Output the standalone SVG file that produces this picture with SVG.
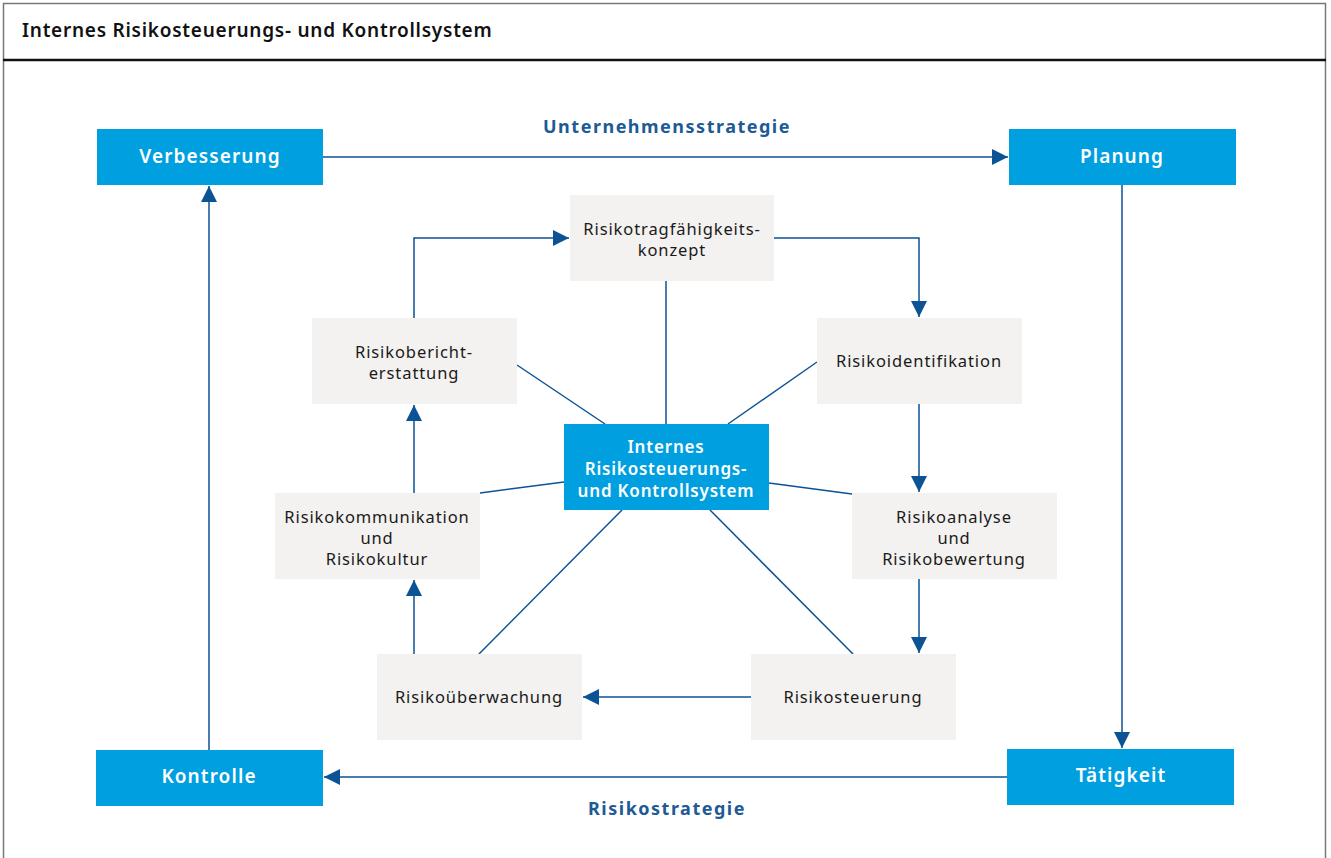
<svg xmlns="http://www.w3.org/2000/svg" width="1331" height="858" viewBox="0 0 1331 858">
<defs>
<style>
.blue{fill:#009FDF}
.gray{fill:#F3F2F0}
.wt{font-family:"Noto Sans","Open Sans",sans-serif;font-size:19px;font-weight:600;fill:#ffffff;text-anchor:middle;letter-spacing:1.1px}
.ct{font-family:"Noto Sans","Open Sans",sans-serif;font-size:17px;font-weight:600;fill:#ffffff;text-anchor:middle;letter-spacing:0.8px}
.gt{font-family:"Noto Sans","Open Sans",sans-serif;font-size:16.5px;fill:#1a1a1a;text-anchor:middle;letter-spacing:0.9px}
.lbl{font-family:"Noto Sans","Open Sans",sans-serif;font-size:18px;font-weight:700;fill:#1D5A96;text-anchor:middle;letter-spacing:1.5px}
.ln{stroke:#0B5394;stroke-width:1.5;fill:none}
.title{font-family:"Noto Sans","Open Sans",sans-serif;font-size:19px;font-weight:600;fill:#111;letter-spacing:0.75px}
</style>
<marker id="ah" viewBox="0 0 10 10" refX="10" refY="5" markerWidth="16" markerHeight="16" markerUnits="userSpaceOnUse" orient="auto">
<path d="M0,0 L10,5 L0,10 z" fill="#0B5394"/>
</marker>
</defs>
<rect x="0" y="0" width="1331" height="858" fill="#ffffff"/>
<rect x="3.5" y="3.5" width="1322" height="870" fill="none" stroke="#777" stroke-width="1.5"/>
<line x1="3" y1="60" x2="1326" y2="60" stroke="#111" stroke-width="2.5"/>
<text class="title" x="22" y="37">Internes Risikosteuerungs- und Kontrollsystem</text>

<g id="connectors">
<line class="ln" x1="323" y1="157" x2="1008" y2="157" marker-end="url(#ah)"/>
<line class="ln" x1="1122" y1="185" x2="1122" y2="748" marker-end="url(#ah)"/>
<line class="ln" x1="1007" y1="777" x2="324" y2="777" marker-end="url(#ah)"/>
<line class="ln" x1="209" y1="750" x2="209" y2="186" marker-end="url(#ah)"/>
<polyline class="ln" points="414,318 414,238 569,238" marker-end="url(#ah)"/>
<polyline class="ln" points="774,238 919,238 919,317" marker-end="url(#ah)"/>
<line class="ln" x1="919" y1="404" x2="919" y2="492" marker-end="url(#ah)"/>
<line class="ln" x1="919" y1="579" x2="919" y2="653" marker-end="url(#ah)"/>
<line class="ln" x1="751" y1="697" x2="583" y2="697" marker-end="url(#ah)"/>
<line class="ln" x1="414" y1="654" x2="414" y2="580" marker-end="url(#ah)"/>
<line class="ln" x1="414" y1="493" x2="414" y2="405" marker-end="url(#ah)"/>
<line class="ln" x1="666" y1="424" x2="666" y2="281"/>
<line class="ln" x1="605" y1="424" x2="517" y2="365"/>
<line class="ln" x1="728" y1="424" x2="817" y2="362"/>
<line class="ln" x1="769" y1="483" x2="852" y2="494"/>
<line class="ln" x1="564" y1="482" x2="480" y2="493"/>
<line class="ln" x1="622" y1="510" x2="479" y2="654"/>
<line class="ln" x1="710" y1="510" x2="853" y2="654"/>
</g>

<text class="lbl" x="667" y="133">Unternehmensstrategie</text>
<text class="lbl" x="667" y="815">Risikostrategie</text>

<g id="verbesserung"><rect class="blue" x="97" y="129" width="226" height="56"/><text class="wt" x="210" y="163">Verbesserung</text></g>
<g id="planung"><rect class="blue" x="1009" y="129" width="227" height="56"/><text class="wt" x="1122" y="163">Planung</text></g>
<g id="kontrolle"><rect class="blue" x="96" y="750" width="227" height="56"/><text class="wt" x="209" y="783">Kontrolle</text></g>
<g id="taetigkeit"><rect class="blue" x="1007" y="749" width="227" height="56"/><text class="wt" x="1121" y="782">Tätigkeit</text></g>

<g id="tragfaehigkeit"><rect class="gray" x="570" y="195" width="204" height="86"/><text class="gt" x="672" y="235">Risikotragfähigkeits-</text><text class="gt" x="672" y="256">konzept</text></g>
<g id="berichterstattung"><rect class="gray" x="312" y="318" width="205" height="86"/><text class="gt" x="414" y="358">Risikobericht-</text><text class="gt" x="414" y="379">erstattung</text></g>
<g id="identifikation"><rect class="gray" x="817" y="318" width="205" height="86"/><text class="gt" x="919" y="367">Risikoidentifikation</text></g>
<g id="zentrum"><rect class="blue" x="564" y="424" width="205" height="86"/><text class="ct" x="666" y="453">Internes</text><text class="ct" x="666" y="475">Risikosteuerungs-</text><text class="ct" x="666" y="497">und Kontrollsystem</text></g>
<g id="kommunikation"><rect class="gray" x="275" y="493" width="205" height="86"/><text class="gt" x="377" y="523">Risikokommunikation</text><text class="gt" x="377" y="544">und</text><text class="gt" x="377" y="565">Risikokultur</text></g>
<g id="analyse"><rect class="gray" x="852" y="493" width="205" height="86"/><text class="gt" x="954" y="523">Risikoanalyse</text><text class="gt" x="954" y="544">und</text><text class="gt" x="954" y="565">Risikobewertung</text></g>
<g id="ueberwachung"><rect class="gray" x="377" y="654" width="205" height="86"/><text class="gt" x="479" y="703">Risikoüberwachung</text></g>
<g id="steuerung"><rect class="gray" x="751" y="654" width="205" height="86"/><text class="gt" x="853" y="703">Risikosteuerung</text></g>
</svg>
